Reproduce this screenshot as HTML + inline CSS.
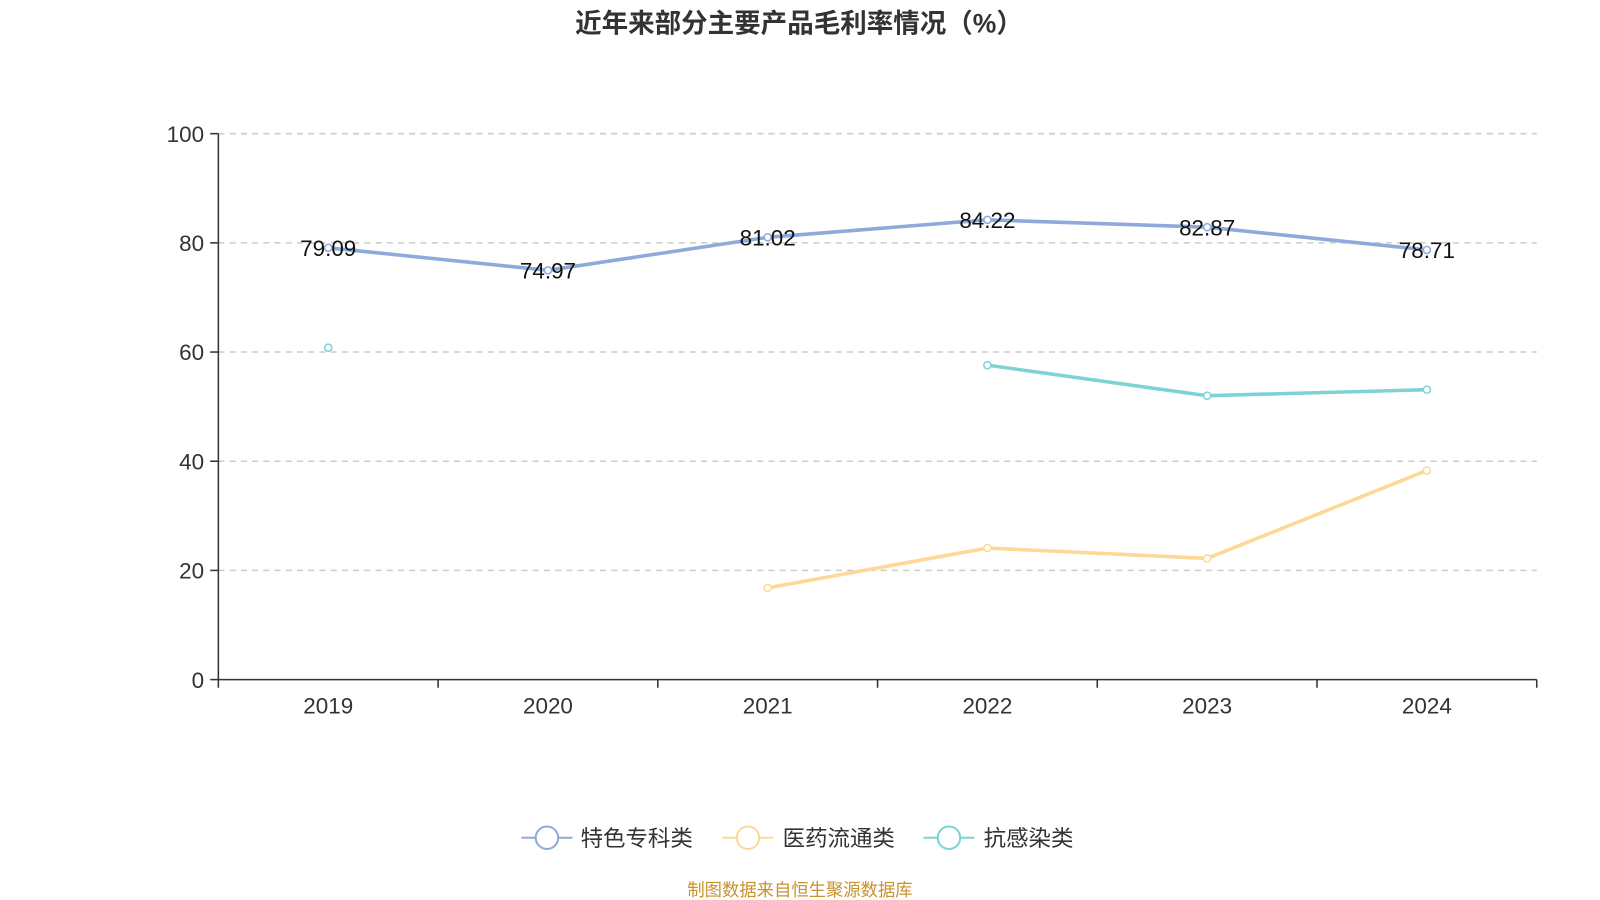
<!DOCTYPE html>
<html><head><meta charset="utf-8"><style>
body{margin:0;background:#fff;}
svg{display:block;font-family:"Liberation Sans","Noto Sans CJK SC",sans-serif;}
</style></head><body>
<svg id="chart" width="1600" height="900" viewBox="0 0 1568 882">
<text x="783" y="32" text-anchor="middle" font-size="26" font-weight="bold" fill="#333">近年来部分主要产品毛利率情况（%）</text>
<g id="plot"></g>
<g font-size="22" fill="#333">
<g><line x1="511" y1="821" x2="561" y2="821" stroke="#8eaadb" stroke-width="2"/><circle cx="536" cy="821" r="11" fill="#fff" stroke="#8eaadb" stroke-width="2"/><text x="569" y="829">特色专科类</text></g>
<g><line x1="708" y1="821" x2="758" y2="821" stroke="#fdd896" stroke-width="2"/><circle cx="733" cy="821" r="11" fill="#fff" stroke="#fdd896" stroke-width="2"/><text x="767" y="829">医药流通类</text></g>
<g><line x1="905" y1="821" x2="955" y2="821" stroke="#7dd3d3" stroke-width="2"/><circle cx="930" cy="821" r="11" fill="#fff" stroke="#7dd3d3" stroke-width="2"/><text x="964" y="829">抗感染类</text></g>
</g>
<text x="784" y="878" text-anchor="middle" font-size="17" fill="#c8922e">制图数据来自恒生聚源数据库</text>
</svg>
<script>
const categories=["2019","2020","2021","2022","2023","2024"];
const specialty=[79.09,74.97,81.02,84.22,82.87,78.71];
const distribution=[null,null,16.8,24.1,22.2,38.3];
const antiInfection=[60.8,null,null,57.6,52.0,53.1];
const yTicks=[0,20,40,60,80,100];
const NS="http://www.w3.org/2000/svg";
const g=document.getElementById('plot');
const x0=214,x1=1506,yb=666,yt=131;
const bw=(x1-x0)/categories.length;
const X=i=>x0+bw*(i+0.5);
const Y=v=>yb-(v/100)*(yb-yt);
function mk(t,a){const e=document.createElementNS(NS,t);for(const k in a)e.setAttribute(k,a[k]);g.appendChild(e);return e;}
yTicks.forEach(v=>{
 if(v>0){const l=mk('line',{x1:x0,x2:x1,y1:Y(v),y2:Y(v),stroke:'#ccc','stroke-dasharray':'6,5','stroke-width':1.5});
 
 }
 const t=mk('text',{x:x0-14,y:Y(v)+8,'text-anchor':'end','font-size':22,fill:'#333'});t.textContent=v;
 
 
 mk('line',{x1:x0-8,x2:x0,y1:Y(v),y2:Y(v),stroke:'#333','stroke-width':1.5});
});
const ya=mk('line',{x1:x0,x2:x0,y1:yt,y2:yb,stroke:'#333','stroke-width':1.5});


const xa=mk('line',{x1:x0,x2:x1,y1:yb,y2:yb,stroke:'#333','stroke-width':1.5});


for(let i=0;i<=categories.length;i++)mk('line',{x1:x0+bw*i,x2:x0+bw*i,y1:yb,y2:yb+8,stroke:'#333','stroke-width':1.5});
categories.forEach((c,i)=>{const t=mk('text',{x:X(i),y:699,'text-anchor':'middle','font-size':22,fill:'#333'});t.textContent=c;
 
 });
function series(d,color,name,labels){
 let segs=[],cur=[];
 d.forEach((v,i)=>{if(v==null){if(cur.length)segs.push(cur);cur=[];}else cur.push([X(i),Y(v)]);});
 if(cur.length)segs.push(cur);
 segs.forEach(s=>{if(s.length>1){const p=mk('polyline',{points:s.map(q=>q.join(',')).join(' '),fill:'none',stroke:color,'stroke-width':3.5});
  
  }});
 d.forEach((v,i)=>{if(v==null)return;
  const c=mk('circle',{cx:X(i),cy:Y(v),r:3.5,fill:'#fff',stroke:color,'stroke-width':1.5});
  
  
  if(labels){const t=mk('text',{x:X(i),y:Y(v)+8,'text-anchor':'middle','font-size':22,fill:'#111'});t.textContent=v.toFixed(2);
   
   }
 });
}
series(distribution,'#fdd896','distribution',false);
series(antiInfection,'#7dd3d3','anti-infection',false);
series(specialty,'#8eaadb','specialty',true);
</script>
</body></html>
